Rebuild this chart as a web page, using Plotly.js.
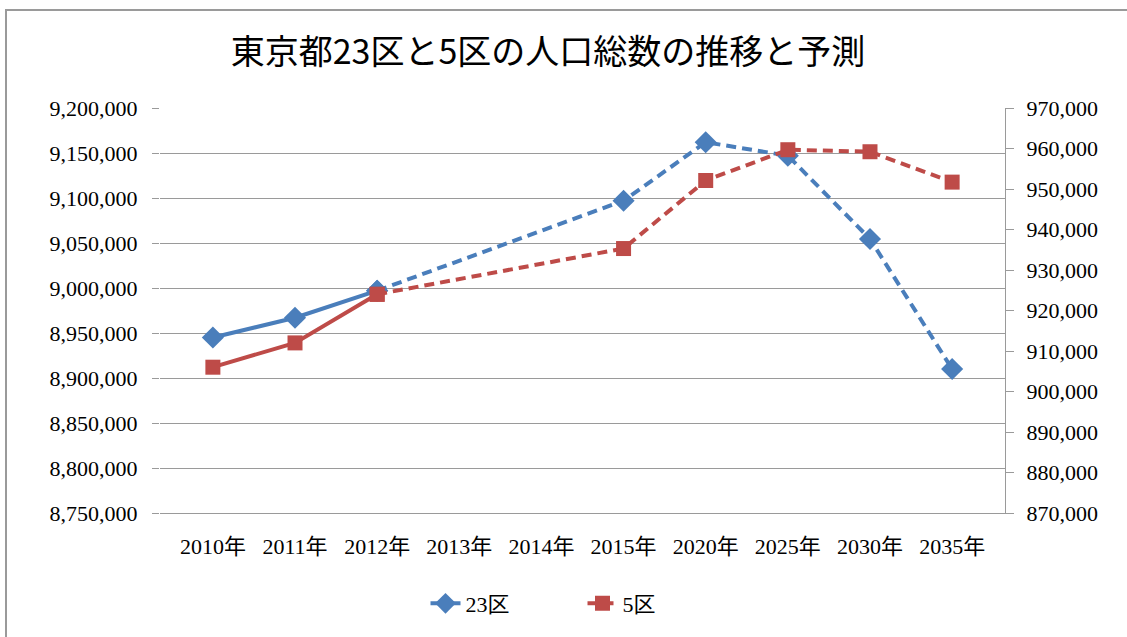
<!DOCTYPE html>
<html>
<head>
<meta charset="utf-8">
<script src="https://cdn.plot.ly/plotly-3.0.1.min.js"></script>
<style>
  html, body { margin: 0; padding: 0; background: #fff; }
  #wrap { position: relative; width: 1127px; height: 637px; overflow: hidden; }
  #chart { position: absolute; left: 0; top: 0; width: 1127px; height: 637px; }
  #frame { position: absolute; left: 5px; top: 9px; width: 1140px; height: 660px;
           border: 2px solid #9a9a9a; pointer-events: none; }
</style>
</head>
<body>
<div id="wrap">
  <div id="chart"></div>
  <div id="frame"></div>
</div>
<script>
// Categories (x axis)
const years = ['2010年','2011年','2012年','2013年','2014年','2015年','2020年','2025年','2030年','2035年'];
// 23区 total population (left axis)
const ku23 = [8945000, 8967000, 8997000, null, null, 9097000, 9162000, 9147000, 9054500, 8910000];
// 5区 total population (right axis)
const ku5 = [906000, 912000, 924000, null, null, 935300, 952100, 959700, 959200, 951700];
const titleText = '東京都23区と5区の人口総数の推移と予測';
const name23 = '23区';
const name5 = '5区';

const blue = '#4a7ebb';
const red = '#be4b48';
const serif = '"Liberation Serif", "Noto Sans CJK JP", serif';
const dashPat = '10px,6px';
const splitIdx = 2; // last actual-value index

const traces = [
  { // 23区 actual (solid)
    x: years.slice(0, splitIdx + 1), y: ku23.slice(0, splitIdx + 1),
    name: name23, type: 'scatter', mode: 'lines+markers', yaxis: 'y',
    line: { color: blue, width: 4 },
    marker: { symbol: 'diamond', size: 17, color: blue },
    legendrank: 1, showlegend: true
  },
  { // 23区 projection (dashed)
    x: years.slice(splitIdx), y: ku23.slice(splitIdx),
    name: name23, type: 'scatter', mode: 'lines+markers', yaxis: 'y',
    connectgaps: true,
    line: { color: blue, width: 4, dash: dashPat },
    marker: { symbol: 'diamond', size: 17, color: blue },
    showlegend: false
  },
  { // 5区 actual (solid)
    x: years.slice(0, splitIdx + 1), y: ku5.slice(0, splitIdx + 1),
    name: name5, type: 'scatter', mode: 'lines+markers', yaxis: 'y2',
    line: { color: red, width: 4 },
    marker: { symbol: 'square', size: 15, color: red },
    showlegend: false
  },
  { // 5区 projection (dashed)
    x: years.slice(splitIdx), y: ku5.slice(splitIdx),
    name: name5, type: 'scatter', mode: 'lines+markers', yaxis: 'y2',
    connectgaps: true,
    line: { color: red, width: 4, dash: dashPat },
    marker: { symbol: 'square', size: 15, color: red },
    legendrank: 2, showlegend: true
  }
];

const layout = {
  width: 1127, height: 637,
  margin: { l: 160, r: 122, t: 108, b: 122, pad: 0 },
  paper_bgcolor: 'rgba(0,0,0,0)',
  plot_bgcolor: 'rgba(0,0,0,0)',
  font: { family: serif, size: 22, color: '#000' },
  title: {
    text: titleText,
    font: { family: '"Noto Sans CJK JP", sans-serif', size: 34, color: '#000' },
    xref: 'container', x: 548 / 1127, xanchor: 'center',
    yref: 'container', y: 1 - 52 / 637, yanchor: 'middle'
  },
  xaxis: {
    type: 'category', categoryorder: 'array', categoryarray: years,
    showline: true, linecolor: '#9a9a9a', linewidth: 1,
    showgrid: false, ticks: '', zeroline: false,
    ticklabelstandoff: 14,
    tickfont: { family: serif, size: 22, color: '#000' },
    automargin: false
  },
  yaxis: {
    range: [8750000, 9200000], dtick: 50000, tick0: 8750000,
    tickformat: ',d', showgrid: true, gridcolor: '#9a9a9a', gridwidth: 1,
    showline: false, zeroline: false,
    ticks: 'outside', ticklen: 7, tickcolor: '#9a9a9a', tickwidth: 1,
    ticklabelstandoff: 10,
    tickfont: { family: serif, size: 22, color: '#000' },
    automargin: false
  },
  yaxis2: {
    overlaying: 'y', side: 'right',
    range: [870000, 970000], dtick: 10000, tick0: 870000,
    tickformat: ',d', showgrid: false, zeroline: false,
    showline: true, linecolor: '#9a9a9a', linewidth: 1,
    ticks: 'outside', ticklen: 8, tickcolor: '#9a9a9a', tickwidth: 1,
    ticklabelstandoff: 8,
    tickfont: { family: serif, size: 22, color: '#000' },
    automargin: false
  },
  showlegend: true,
  legend: {
    orientation: 'h', x: 0.5, xanchor: 'center',
    y: (515 - 606) / 407, yanchor: 'middle',
    font: { family: serif, size: 22, color: '#000' },
    traceorder: 'normal', entrywidth: 112, entrywidthmode: 'pixels',
    bgcolor: 'rgba(0,0,0,0)'
  }
};

Plotly.newPlot('chart', traces, layout, { displayModeBar: false, staticPlot: true });
</script>
</body>
</html>
